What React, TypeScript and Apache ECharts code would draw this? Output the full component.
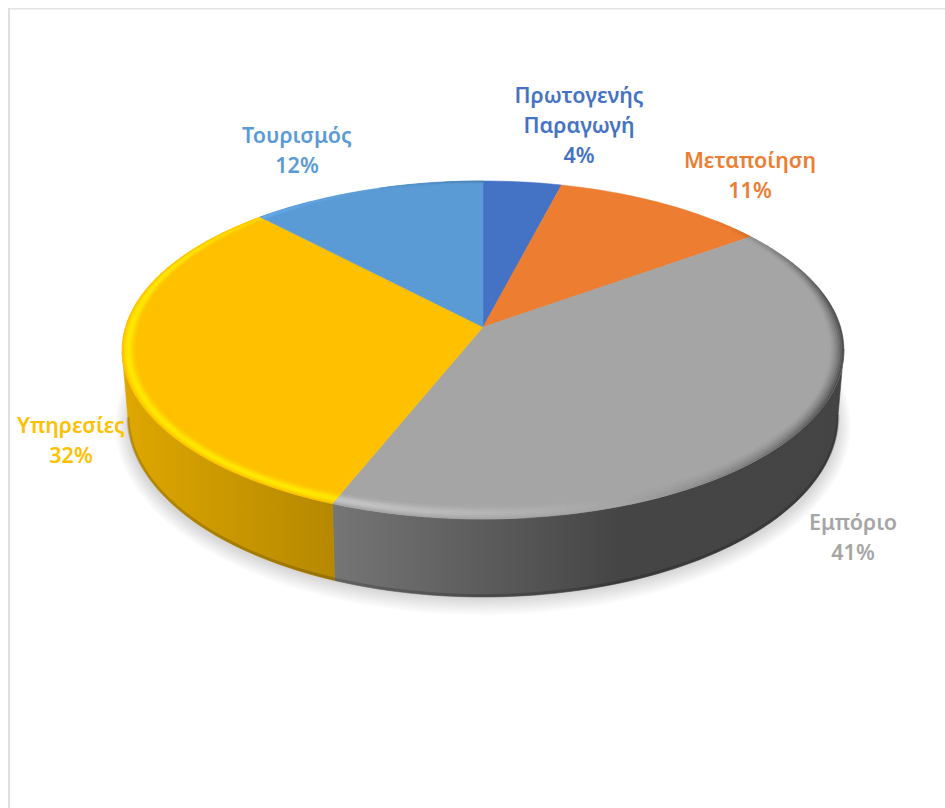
import React, { useEffect, useRef } from "react";
import * as echarts from "echarts";

const categories = ["Πρωτογενής\nΠαραγωγή", "Μεταποίηση", "Εμπόριο", "Υπηρεσίες", "Τουρισμός"];
const shares = [4, 11, 41, 32, 12];
const sliceColors = ["#4472C4", "#ED7D31", "#A5A5A5", "#FFC000", "#5B9BD5"];
const labelCenters = [
  [579, 124],
  [750, 174],
  [853, 536],
  [71, 439],
  [297, 149],
];

// Projection of the tilted disc
const APEX = { x: 483, y: 327 };
const A = 357.5;
const B = 165.9;
const E = 0.136;
const TOP = { x: 483, y: 350, rx: 360, ry: 169 };
const BOTTOM = { x: 483, y: 417, rx: 355, ry: 180 };
const RAD = Math.PI / 180;

const rim = (deg: number) => {
  const s = Math.sin(deg * RAD);
  const c = Math.cos(deg * RAD);
  const w = 1 + E * c;
  return { x: APEX.x + (A * s) / w, y: APEX.y - (B * c) / w };
};
const lower = (p: { x: number; y: number }) => {
  const sx = (p.x - TOP.x) / TOP.rx;
  const sy = (p.y - TOP.y) / TOP.ry;
  const n = Math.hypot(sx, sy) || 1;
  return { x: BOTTOM.x + (BOTTOM.rx * sx) / n, y: BOTTOM.y + (BOTTOM.ry * sy) / n };
};
const rgb = (hex: string) => [1, 3, 5].map((i) => parseInt(hex.slice(i, i + 2), 16));
const shade = (hex: string, m: number) => {
  const [r, g, b] = rgb(hex);
  const f = (v: number) => Math.min(255, Math.round(v * m));
  return `rgb(${f(r)},${f(g)},${f(b)})`;
};

const wallStops = [
  [125, 0.87],
  [335, 0.71],
  [620, 0.42],
  [843, 0.41],
];
const wallFill = (hex: string) => ({
  type: "linear",
  x: 120,
  y: 0,
  x2: 843,
  y2: 0,
  global: true,
  colorStops: wallStops.map(([x, m]) => ({ offset: (x - 120) / 723, color: shade(hex, m) })),
});

const inset = (deg: number, px: number) => {
  const p = rim(deg);
  const len = Math.hypot(p.x - APEX.x, p.y - APEX.y);
  const f = 1 - px / len;
  return { x: APEX.x + (p.x - APEX.x) * f, y: APEX.y + (p.y - APEX.y) * f };
};
const bevelWidth = (deg: number) => 3 + 12 * Math.min(1, 1 - Math.cos(deg * RAD));
const bevelGain = (deg: number, s: number) => {
  const l = Math.cos((deg - 250) * RAD);
  if (l > 0) {
    const bell = Math.pow(Math.sin(Math.PI * Math.pow(s, 0.8)), 2);
    return 1 + 0.22 * Math.min(1, l * 1.4) * bell;
  }
  const fade = Math.min(1, Math.max(0, (deg - 45) / 35));
  return 1 - 0.58 * Math.min(1, -l * 1.3) * fade * Math.pow(1 - s, 1.5);
};

const renderSlice = (params: any, api: any) => {
  const i = params.dataIndex;
  const total = shares.reduce((a, b) => a + b, 0);
  const before = shares.slice(0, i).reduce((a, b) => a + b, 0);
  const start = (before / total) * 360;
  const end = start + (api.value(0) / total) * 360;
  const color = sliceColors[i];
  const step = 1.5;
  const degs: number[] = [];
  for (let d = start; d < end; d += step) degs.push(d);
  degs.push(end);

  const children: any[] = [];

  // Side wall
  const front = degs.map(rim).filter((p) => p.y - TOP.y >= -1);
  if (front.length > 1) {
    const low = front.map(lower);
    children.push({
      type: "polygon",
      shape: { points: [...front, ...low.reverse()].map((p) => [p.x, p.y]) },
      style: { fill: wallFill(color), stroke: wallFill(color), lineWidth: 0.6 },
    });
    children.push({
      type: "polyline",
      shape: {
        points: front.map(lower).map((p) => [p.x, p.y - 1.5]),
      },
      style: { fill: null, stroke: "rgba(0,0,0,0.17)", lineWidth: 3 },
    });
  }

  // Top face
  children.push({
    type: "polygon",
    shape: { points: [[APEX.x, APEX.y], ...degs.map(rim).map((p) => [p.x, p.y])] },
    style: { fill: color, stroke: color, lineWidth: 0.5 },
  });

  // Bevel round the rim
  const rings = 8;
  for (let k = 0; k < degs.length - 1; k++) {
    const d0 = degs[k];
    const d1 = degs[k + 1];
    for (let r = 0; r < rings; r++) {
      const s0 = r / rings;
      const s1 = (r + 1) / rings;
      const gain = bevelGain((d0 + d1) / 2, (s0 + s1) / 2);
      if (Math.abs(gain - 1) < 0.008) continue;
      const fill = shade(color, gain);
      const pts = [
        inset(d0, s0 * bevelWidth(d0)),
        inset(d1, s0 * bevelWidth(d1)),
        inset(d1, s1 * bevelWidth(d1)),
        inset(d0, s1 * bevelWidth(d0)),
      ];
      children.push({
        type: "polygon",
        shape: { points: pts.map((p) => [p.x, p.y]) },
        style: { fill, stroke: fill, lineWidth: 0.4 },
      });
    }
  }

  // Label
  children.push({
    type: "text",
    x: labelCenters[i][0],
    y: labelCenters[i][1],
    style: {
      text: `${categories[i]}\n${api.value(0)}%`,
      fill: color,
      font: '600 21.5px "Noto Sans", sans-serif',
      lineHeight: 30,
      align: "center",
      verticalAlign: "middle",
    },
  });

  return { type: "group", children };
};

const shadowLayers = [0, 1, 2, 3, 4, 5, 6, 7, 8, 9];

export default function App() {
  const ref = useRef<HTMLDivElement>(null);
  useEffect(() => {
    const chart = echarts.init(ref.current!, undefined, { renderer: "svg" });
    chart.setOption({
      animation: false,
      backgroundColor: "#ffffff",
      graphic: [
        { type: "rect", z: 0, shape: { x: 8, y: 8, width: 937, height: 1.5 }, style: { fill: "#e4e4e4" } },
        { type: "rect", z: 0, shape: { x: 8, y: 8, width: 2, height: 800 }, style: { fill: "#e0e0e0" } },
        ...shadowLayers.map((n) => ({
          type: "ellipse",
          z: 0,
          shape: { cx: 483, cy: 425, rx: 368 - n * 1.5, ry: 190 - n * 1.8 },
          style: { fill: "rgba(0,0,0,0.017)" },
        })),
      ],
      series: [
        {
          type: "custom",
          coordinateSystem: "none",
          silent: true,
          renderItem: renderSlice,
          data: shares,
        },
      ],
    });
    return () => chart.dispose();
  }, []);
  return <div ref={ref} style={{ position: "fixed", left: 0, top: 0, width: 945, height: 808 }} />;
}
